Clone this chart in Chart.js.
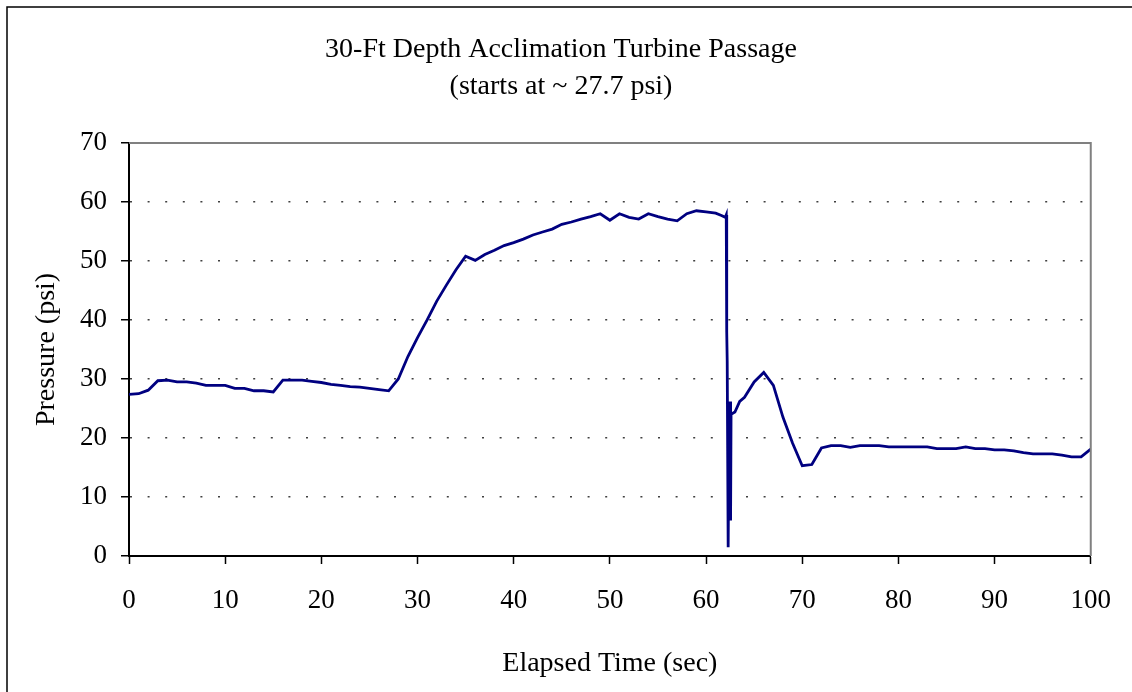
<!DOCTYPE html>
<html>
<head>
<meta charset="utf-8">
<title>30-Ft Depth Acclimation Turbine Passage</title>
<script src="https://cdn.jsdelivr.net/npm/chart.js@4/dist/chart.umd.min.js"></script>
<style>
  html, body { margin: 0; padding: 0; background: #fff; }
  #wrap { width: 1132px; height: 692px; }
</style>
</head>
<body>
<div id="wrap"><canvas id="chart" width="1132" height="692"></canvas></div>
<script>
// chart data
const titleLines = ['30-Ft Depth Acclimation Turbine Passage', '(starts at ~ 27.7 psi)'];
const xTitle = 'Elapsed Time (sec)';
const yTitle = 'Pressure (psi)';

const timeSec = [
  0, 1, 2, 3, 4, 5, 6, 7, 8, 9, 10, 11, 12, 13, 14, 15, 16, 17, 18, 19,
  20, 21, 22, 23, 24, 25, 26, 27, 28, 29, 30, 31, 32, 33, 34, 35, 36, 37, 38, 39,
  40, 41, 42, 43, 44, 45, 46, 47, 48, 49, 50, 51, 52, 53, 54, 55, 56, 57, 58, 59,
  60, 61, 61.6, 62, 62.1, 62.15, 62.2, 62.3, 62.4, 62.45, 62.5, 62.55, 62.6, 63, 63.5, 64, 65, 66, 67, 68, 69,
  70, 71, 72, 73, 74, 75, 76, 77, 78, 79, 80, 81, 82, 83, 84, 85, 86, 87, 88, 89,
  90, 91, 92, 93, 94, 95, 96, 97, 98, 99, 100
];
const pressurePsi = [
  27.4, 27.5, 28.1, 29.7, 29.8, 29.5, 29.5, 29.3, 28.9, 28.9, 28.9, 28.4, 28.4, 28.0, 28.0, 27.8, 29.8, 29.8, 29.8, 29.6,
  29.4, 29.1, 28.9, 28.7, 28.6, 28.4, 28.2, 28.0, 30.0, 33.8, 37.0, 40.0, 43.2, 45.9, 48.5, 50.8, 50.1, 51.1, 51.8, 52.6,
  53.1, 53.7, 54.4, 54.9, 55.4, 56.2, 56.6, 57.1, 57.5, 58.0, 56.9, 58.0, 57.4, 57.1, 58.0, 57.5, 57.1, 56.8, 58.0, 58.5,
  58.3, 58.1, 57.7, 57.4, 57.8, 38.0, 33.0, 1.5, 26.0, 8.0, 26.2, 6.0, 24.0, 24.4, 26.2, 26.9, 29.5, 31.1, 28.9, 23.5, 19.1,
  15.3, 15.5, 18.3, 18.7, 18.7, 18.4, 18.7, 18.7, 18.7, 18.5, 18.5, 18.5, 18.5, 18.5, 18.2, 18.2, 18.2, 18.5, 18.2, 18.2,
  18.0, 18.0, 17.8, 17.5, 17.3, 17.3, 17.3, 17.1, 16.8, 16.8, 18.1
];

const points = timeSec.map((t, i) => ({ x: t, y: pressurePsi[i] }));

const serif = '"Liberation Serif", "Times New Roman", serif';

// outer frame and grey top/right plot border
const frame = {
  id: 'frame',
  beforeDraw(chart) {
    const ctx = chart.ctx;
    ctx.save();
    ctx.strokeStyle = '#000';
    ctx.lineWidth = 1.5;
    ctx.beginPath();
    ctx.moveTo(7, 692);
    ctx.lineTo(7, 7);
    ctx.lineTo(1132, 7);
    ctx.stroke();
    ctx.restore();
  },
  afterDatasetsDraw(chart) {
    const { left, top, right, bottom } = chart.chartArea;
    const ctx = chart.ctx;
    ctx.save();
    ctx.strokeStyle = '#808080';
    ctx.lineWidth = 2;
    ctx.beginPath();
    ctx.moveTo(left, top);
    ctx.lineTo(right, top);
    ctx.lineTo(right, bottom);
    ctx.stroke();
    ctx.restore();
  }
};

new Chart(document.getElementById('chart').getContext('2d'), {
  type: 'line',
  data: {
    datasets: [
      {
        data: points,
        borderColor: '#000080',
        borderWidth: 2.8,
        pointRadius: 0,
        tension: 0,
        fill: false,
      },
    ],
  },
  options: {
    responsive: false,
    animation: false,
    layout: { padding: { left: 0, right: 10, top: 0, bottom: 0 } },
    plugins: {
      legend: { display: false },
      tooltip: { enabled: false },
      title: {
        display: true,
        text: titleLines,
        color: '#000',
        font: { family: serif, size: 28, weight: 'normal', lineHeight: 1.32 },
        padding: { top: 31.5, bottom: 37.5 },
      },
    },
    scales: {
      x: {
        type: 'linear',
        min: 0,
        max: 100,
        afterFit: (scale) => { scale.height = 136; },
        border: { color: '#000', width: 2 },
        grid: { drawOnChartArea: false, tickLength: 8, tickColor: '#000', tickWidth: 1.5 },
        ticks: {
          stepSize: 10,
          color: '#000',
          padding: 21,
          maxRotation: 0,
          font: { family: serif, size: 27 },
        },
        title: {
          display: true,
          text: xTitle,
          color: '#000',
          font: { family: serif, size: 28 },
          padding: { top: 0, bottom: 12 },
        },
      },
      y: {
        min: 0,
        max: 70,
        afterFit: (scale) => { scale.width = 129; },
        border: { color: '#000', width: 2, dash: [2, 15.6] },
        grid: {
          color: (c) => (c.tick.value === 0 || c.tick.value === 70 ? 'rgba(0,0,0,0)' : '#404040'),
          lineWidth: 1.5,
          tickLength: 8,
          tickColor: '#000',
          tickWidth: 1.5,
          tickBorderDash: [],
        },
        ticks: {
          stepSize: 10,
          color: '#000',
          padding: 14,
          font: { family: serif, size: 27 },
        },
        title: {
          display: true,
          text: yTitle,
          color: '#000',
          font: { family: serif, size: 28 },
          padding: { top: 30, bottom: 0 },
        },
      },
      // empty right-hand box so the plot ends at x = 1094 while the title centres on the frame
      yRight: {
        position: 'right',
        afterFit: (scale) => { scale.width = 28; },
        ticks: { display: false },
        grid: { display: false },
        border: { display: false },
      },
    },
  },
  plugins: [frame],
});
</script>
</body>
</html>
